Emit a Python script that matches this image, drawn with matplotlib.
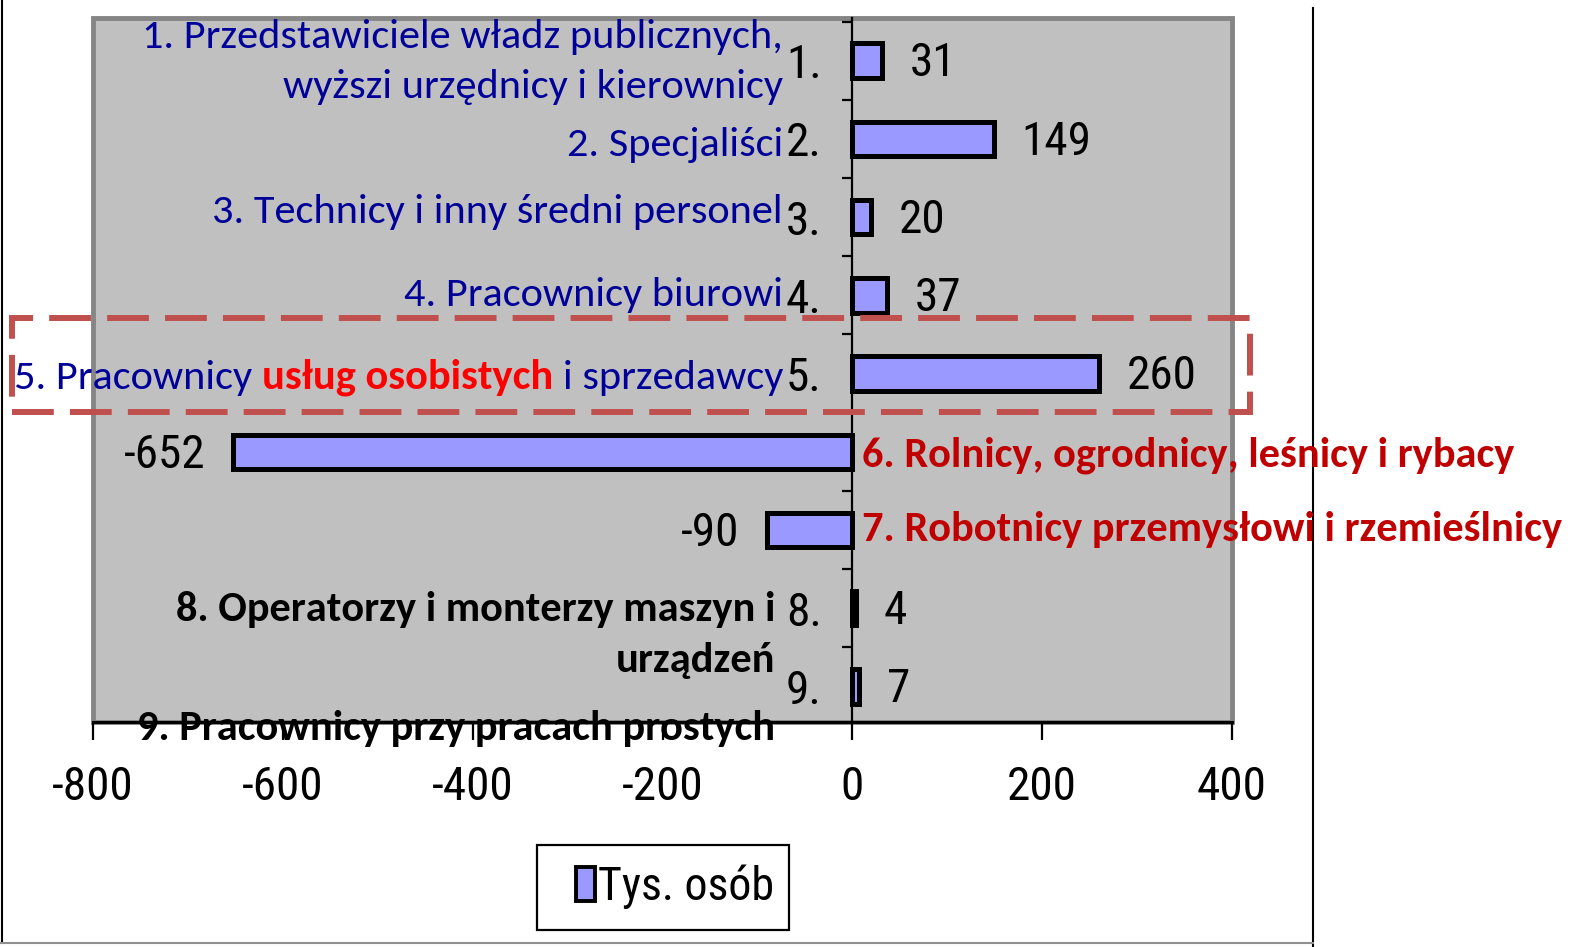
import matplotlib
matplotlib.use('Agg')
import matplotlib.pyplot as plt
from matplotlib.patches import Rectangle
from matplotlib.lines import Line2D
from matplotlib import font_manager

# ---------------- data ----------------
categories = ['1.', '2.', '3.', '4.', '5.', '6.', '7.', '8.', '9.']
values = [31, 149, 20, 37, 260, -652, -90, 4, 7]
xticks = [-800, -600, -400, -200, 0, 200, 400]
legend_label = 'Tys. osób'

# ---------------- fonts ----------------
def pick(names):
    for n in names:
        try:
            font_manager.findfont(font_manager.FontProperties(family=n), fallback_to_default=False)
            return n
        except Exception:
            pass
    return 'DejaVu Sans'

NARROW = pick(['Liberation Sans Narrow', 'Arial Narrow', 'Roboto Condensed', 'Liberation Sans'])
SANS = pick(['Carlito', 'Lato', 'Open Sans', 'Noto Sans'])
plt.rcParams['font.family'] = [NARROW, 'DejaVu Sans']

W, H = 1572, 947
def fx(x):
    return x / W
def fy(y):
    return 1 - y / H

BLUE = '#000099'
RED = '#FF0000'
DRED = '#C00000'
NUM_FS = 34
TXT_FS = 30.5

fig = plt.figure(figsize=(W / 100, H / 100), dpi=100)
fig.patch.set_facecolor('white')
ax = fig.add_axes([fx(93), fy(722), (1232 - 93) / W, (722 - 18) / H])
ax.set_facecolor('#C0C0C0')

ypos = list(range(len(values)))
ax.barh(ypos, values, height=0.44, color='#9999FF', edgecolor='black',
        linewidth=3.6, label=legend_label, zorder=3)
ax.set_xlim(-800, 400)
d = 0.045
ax.set_ylim(len(values) - 0.5 - d, -0.5 - d)

for s in ['top', 'right']:
    ax.spines[s].set_visible(False)
ax.spines['left'].set_position(('data', 0))
ax.spines['left'].set_linewidth(1.6)
ax.spines['left'].set_zorder(4)
ax.spines['bottom'].set_linewidth(2.2)

ax.set_xticks(xticks)
ax.set_xticklabels([str(v) for v in xticks])
ax.tick_params(axis='x', length=13, width=1.6, pad=18, labelsize=NUM_FS)
ax.set_yticks(ypos)
ax.set_yticklabels(categories)
ax.tick_params(axis='y', which='major', length=0, pad=22, labelsize=NUM_FS)
ax.set_yticks([i - 0.5 for i in range(len(values))], minor=True)
ax.tick_params(axis='y', which='minor', length=7, width=1.6, direction='out')

# shadow border of plot area
ax.add_patch(Rectangle((0, 0), 1, 1, transform=ax.transAxes, fill=False,
                       edgecolor='#858585', lw=3.5, clip_on=False, zorder=0.5))

# value labels
for y, v in zip(ypos, values):
    ax.annotate(str(v), (v, y), xytext=(20 if v > 0 else -20, -2),
                textcoords='offset points', ha='left' if v > 0 else 'right',
                va='center', fontsize=NUM_FS, zorder=6)

# legend (frame drawn separately)
leg = ax.legend(loc='center', bbox_to_anchor=(fx(675), fy(887)),
                bbox_transform=fig.transFigure, fontsize=NUM_FS - 1, frameon=False,
                handlelength=0.42, handleheight=0.75, handletextpad=0.08,
                borderpad=0, borderaxespad=0)
for p in leg.get_patches():
    p.set_linewidth(2.8)
fig.add_artist(Rectangle((fx(537), fy(930)), (789 - 537) / W, (930 - 845) / H,
                         transform=fig.transFigure, fill=False, edgecolor='black', lw=1.6))

# page frame lines
fig.add_artist(Line2D([fx(2), fx(2)], [fy(0), fy(943)], color='black', lw=1.5))
fig.add_artist(Line2D([fx(1313), fx(1313)], [fy(8), fy(947)], color='black', lw=1.5))
fig.add_artist(Line2D([fx(0), fx(1313)], [fy(943), fy(943)], color='#909090', lw=1.5))

# dashed highlight rectangle
fig.add_artist(Rectangle((fx(12), fy(412)), (1250 - 12) / W, (412 - 318) / H,
                         transform=fig.transFigure, fill=False, edgecolor='#C0504D',
                         lw=4.3, linestyle=(0, (7.0, 2.7)), zorder=2))

# category annotations
def t(x, y, s, color, weight='normal', ha='right'):
    return fig.text(fx(x), fy(y), s, color=color, fontsize=TXT_FS, fontweight=weight,
                    ha=ha, va='baseline', family=[SANS, 'DejaVu Sans'], zorder=5)

t(783, 48, '1. Przedstawiciele władz publicznych,', BLUE)
t(783, 98, 'wyższi urzędnicy i kierownicy', BLUE)
t(783, 156, '2. Specjaliści', BLUE)
t(783, 223, '3. Technicy i inny średni personel', BLUE)
t(783, 306, '4. Pracownicy biurowi', BLUE)
t(862, 467, '6. Rolnicy, ogrodnicy, leśnicy i rybacy', DRED, 'bold', 'left')
t(862, 541, '7. Robotnicy przemysłowi i rzemieślnicy', DRED, 'bold', 'left')
t(775, 621, '8. Operatorzy i monterzy maszyn i', 'black', 'bold')
t(775, 672, 'urządzeń', 'black', 'bold')
t(775, 740, '9. Pracownicy przy pracach prostych', 'black', 'bold')

# mixed-colour line 5, laid out right to left
fig.canvas.draw()
r = fig.canvas.get_renderer()
def width(s, weight):
    tt = fig.text(0, 0, s, fontsize=TXT_FS, fontweight=weight, family=[SANS, 'DejaVu Sans'])
    w = tt.get_window_extent(renderer=r).width
    tt.remove()
    return w
space = width('x x', 'normal') - width('xx', 'normal')
xr = 783
for s, c, wgt in [('i sprzedawcy', BLUE, 'normal'), ('usług osobistych', RED, 'bold'),
                  ('5. Pracownicy', BLUE, 'normal')]:
    tx = t(xr, 389, s, c, wgt)
    bb = tx.get_window_extent(renderer=r)
    xr = bb.x0 - space

fig.savefig('out.png', dpi=100)
